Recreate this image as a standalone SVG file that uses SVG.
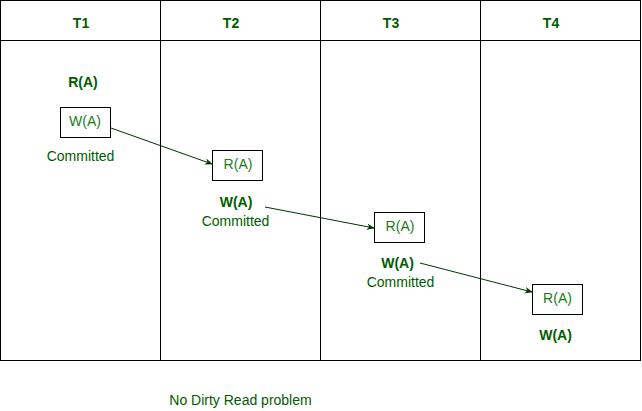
<svg xmlns="http://www.w3.org/2000/svg" width="642" height="411" viewBox="0 0 642 411">
<defs>
<style>
text{font-family:"Liberation Sans",Arial,sans-serif;font-size:14px;text-anchor:middle;fill:#005c00}
.b{font-weight:bold}
.in{fill:#1a7a1a}
.box{fill:#fff;stroke:#000;stroke-width:1}
.grid{fill:none;stroke:#000;stroke-width:1}
.con{stroke:#003300;stroke-width:1;fill:none;marker-end:url(#ah)}
</style>
<marker id="ah" viewBox="0 0 10 10" refX="9" refY="5" markerWidth="8" markerHeight="8" orient="auto" markerUnits="userSpaceOnUse">
<path d="M0,1 L10,5 L0,9 L3,5 Z" fill="#003300"/>
</marker>
</defs>
<rect width="642" height="411" fill="#fff"/>
<g id="table">
<rect class="grid" x="0.5" y="0.5" width="640" height="360"/>
<line class="grid" x1="0.5" y1="40.5" x2="640.5" y2="40.5"/>
<line class="grid" x1="160.5" y1="0.5" x2="160.5" y2="360.5"/>
<line class="grid" x1="320.5" y1="0.5" x2="320.5" y2="360.5"/>
<line class="grid" x1="480.5" y1="0.5" x2="480.5" y2="360.5"/>
<text class="b" x="81" y="28">T1</text>
<text class="b" x="231" y="28">T2</text>
<text class="b" x="391" y="28">T3</text>
<text class="b" x="551" y="28">T4</text>
</g>
<g id="t1">
<text class="b" x="83" y="87">R(A)</text>
<rect class="box" x="60.5" y="107.5" width="50" height="30"/>
<text class="in" x="85" y="126">W(A)</text>
<text x="80.5" y="161">Committed</text>
</g>
<g id="t2">
<rect class="box" x="212.5" y="150.5" width="50" height="30"/>
<text class="in" x="238" y="169">R(A)</text>
<text class="b" x="236" y="207">W(A)</text>
<text x="235.5" y="226">Committed</text>
</g>
<g id="t3">
<rect class="box" x="374.5" y="212.5" width="50" height="30"/>
<text class="in" x="400" y="231">R(A)</text>
<text class="b" x="397.5" y="268">W(A)</text>
<text x="400.5" y="287">Committed</text>
</g>
<g id="t4">
<rect class="box" x="532.5" y="284.5" width="50" height="30"/>
<text class="in" x="557.5" y="303">R(A)</text>
<text class="b" x="555.5" y="340">W(A)</text>
</g>
<g id="connectors">
<line class="con" x1="111" y1="128" x2="212" y2="164"/>
<line class="con" x1="265" y1="207" x2="374" y2="228"/>
<line class="con" x1="420" y1="263" x2="532" y2="292"/>
</g>
<text x="240.5" y="405">No Dirty Read problem</text>
</svg>
